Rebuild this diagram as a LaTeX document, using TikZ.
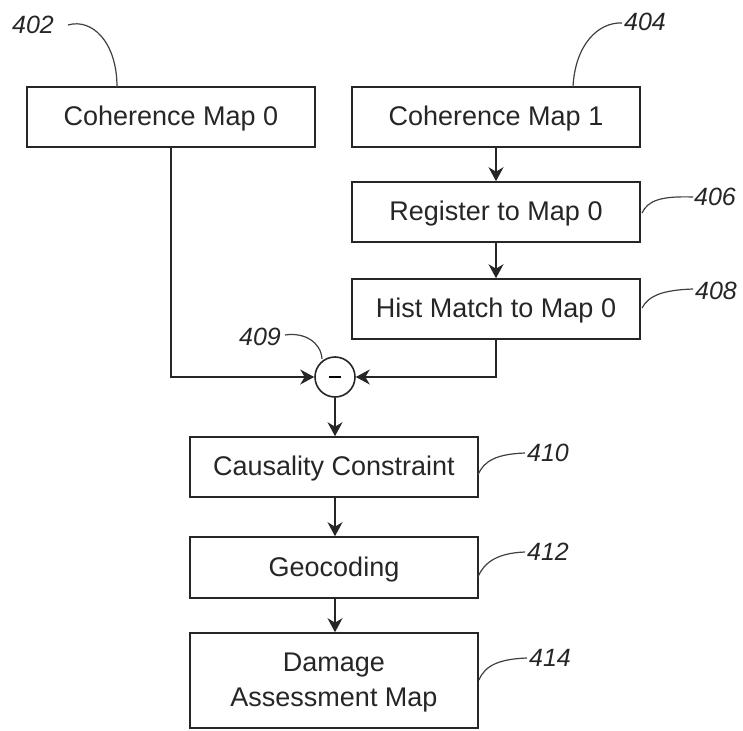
\documentclass[tikz,border=0pt]{standalone}
\usepackage{fontspec}
\setmainfont{Liberation Sans}
\usetikzlibrary{arrows.meta}
\begin{document}
\begin{tikzpicture}[x=1pt,y=-1pt,
  box/.style={draw=black!85, line width=1.6pt, minimum width=288pt, inner sep=0pt,
    font=\fontsize{27}{35}\selectfont, text=black!85, align=center, text depth=2pt},
  ref/.style={font=\fontsize{25}{25}\itshape, text=black!85, inner sep=0pt},
  flow/.style={draw=black!85, line width=1.6pt, -{Stealth[length=14pt,width=15pt,inset=4.5pt]}},
  lead/.style={draw=black!75, line width=1.2pt}]
\useasboundingbox (0,0) rectangle (743,730);
% boxes
\node[box, minimum height=60pt] (cm0) at (171,117) {Coherence Map 0};
\node[box, minimum height=60pt] (cm1) at (496,117) {Coherence Map 1};
\node[box, minimum height=60pt] (reg) at (496,212) {Register to Map 0};
\node[box, minimum height=60pt] (hist) at (496,309) {Hist Match to Map 0};
\node[draw=black!85, line width=1.6pt, circle, minimum size=40pt, inner sep=0pt] (minus) at (335,377) {\rule{12pt}{1.8pt}};
\node[box, minimum height=60pt] (caus) at (334,467) {Causality Constraint};
\node[box, minimum height=61pt] (geo) at (334,567.5) {Geocoding};
\node[box, minimum height=95pt] (dam) at (334,680.5) {Damage\\Assessment Map};
% connectors
\draw[flow] (cm1) -- (reg);
\draw[flow] (reg) -- (hist);
\draw[flow] (cm0.south) |- (minus.west);
\draw[flow] (hist.south) |- (minus.east);
\draw[flow] (minus) -- (caus.north -| minus);
\draw[flow] (caus.south -| minus) -- (geo.north -| minus);
\draw[flow] (geo.south -| minus) -- (dam.north -| minus);
% reference labels
\node[ref] (l402) at (33,25) {402};
\node[ref] (l404) at (645,22) {404};
\node[ref] (l406) at (715,197) {406};
\node[ref] (l408) at (716,291) {408};
\node[ref] (l409) at (260,337) {409};
\node[ref] (l410) at (548,453) {410};
\node[ref] (l412) at (548,552) {412};
\node[ref] (l414) at (550,658) {414};
% leader anchors
\coordinate (a402) at (68,25);   \coordinate (b402) at (117,87);
\coordinate (a404) at (622,23);  \coordinate (b404) at (573,87);
\coordinate (a406) at (693,197); \coordinate (b406) at (642,213);
\coordinate (a408) at (693,289); \coordinate (b408) at (642,308);
\coordinate (a409) at (285,335); \coordinate (b409) at (322,359);
\coordinate (a410) at (525,453); \coordinate (b410) at (478,475);
\coordinate (a412) at (525,552); \coordinate (b412) at (478,577);
\coordinate (a414) at (527,658); \coordinate (b414) at (479,680);
% leaders
\draw[lead] (a402) .. controls (92,18) and (117,42) .. (b402);
\draw[lead] (a404) .. controls (598,22) and (575,45) .. (b404);
\draw[lead] (b406) .. controls (648,200) and (662,196) .. (a406);
\draw[lead] (b408) .. controls (649,295) and (664,290) .. (a408);
\draw[lead] (a409) .. controls (304,332) and (321,342) .. (b409);
\draw[lead] (b410) .. controls (484,460) and (498,454) .. (a410);
\draw[lead] (b412) .. controls (484,562) and (498,553) .. (a412);
\draw[lead] (b414) .. controls (485,665) and (500,659) .. (a414);
\end{tikzpicture}
\end{document}
